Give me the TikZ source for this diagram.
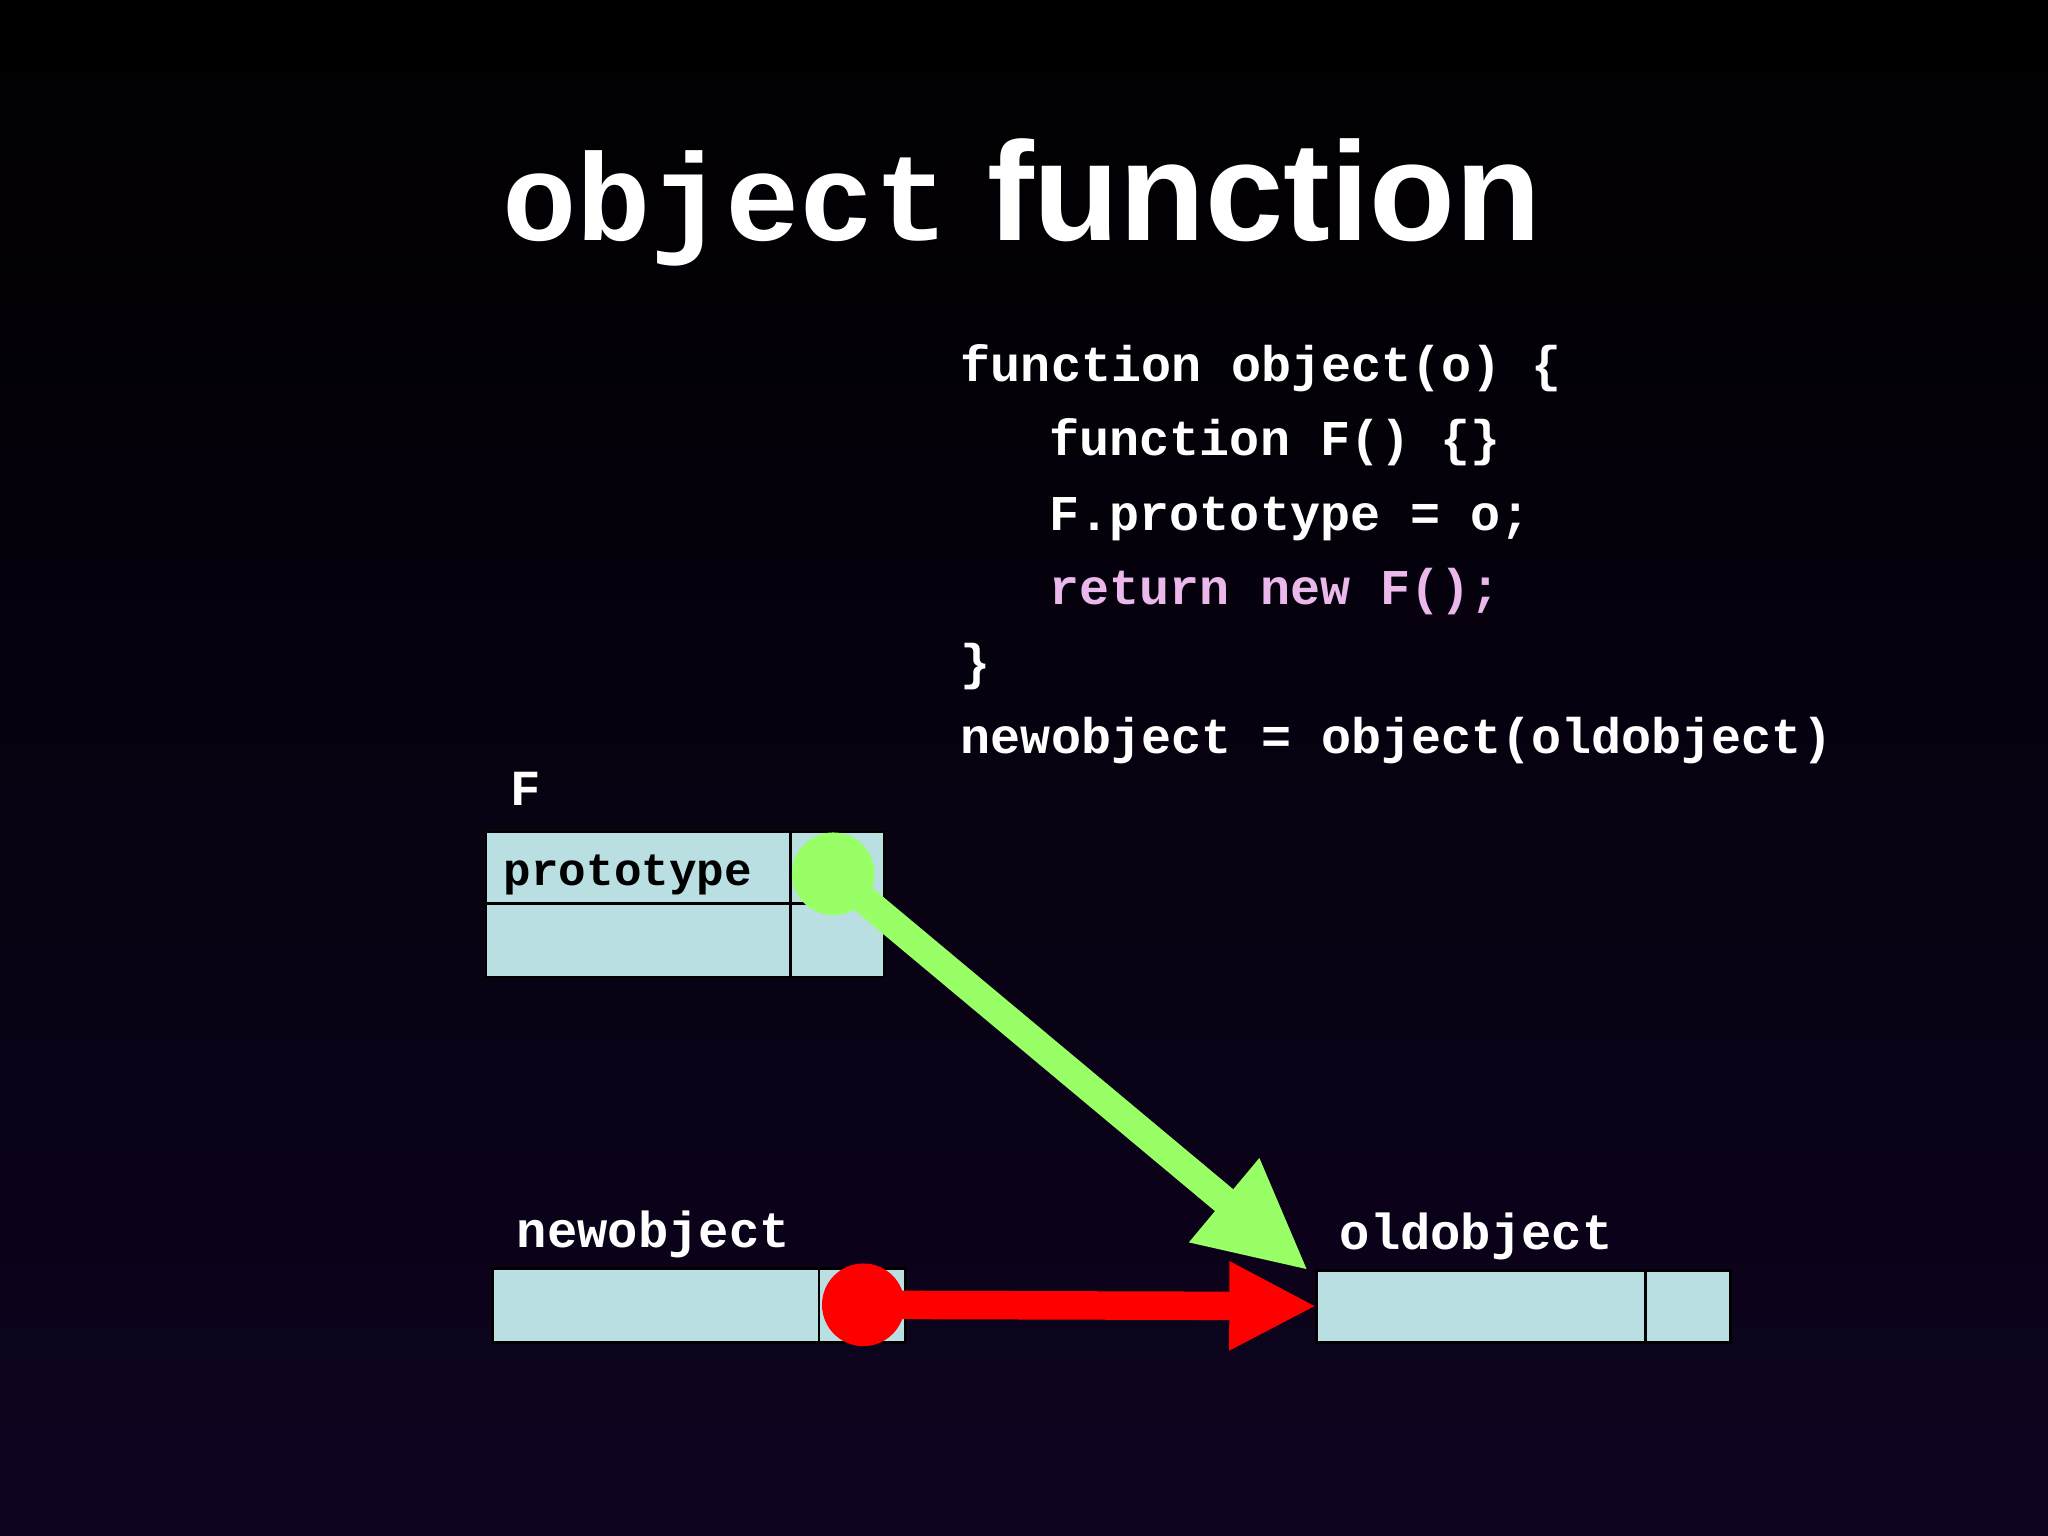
\documentclass[tikz,border=0pt]{standalone}
\usepackage{fontspec}
\setmainfont{Liberation Sans}
\setmonofont{Liberation Mono}
\usetikzlibrary{arrows.meta}
\definecolor{bgbot}{HTML}{0E0320}
\definecolor{boxfill}{HTML}{B9DFE3}
\definecolor{greenc}{HTML}{99FF66}
\definecolor{pinkc}{HTML}{EBB8EB}
\tikzset{
  code/.style={anchor=base west,inner sep=0,text=white,font=\ttfamily\bfseries\fontsize{10.9}{13}\selectfont},
  lbl/.style={anchor=base west,inner sep=0,text=white,font=\ttfamily\bfseries\fontsize{11}{13}\selectfont},
  cell/.style={draw=black,line width=0.6pt,fill=boxfill},
  dot/.style={circle,inner sep=0,minimum size=18pt},
}
\begin{document}
\begin{tikzpicture}[x=0.01cm,y=-0.01cm]
\shade[top color=black,bottom color=bgbot] (0,0) rectangle (1568,1176);
\useasboundingbox (0,0) rectangle (1568,1176);
% title
\node[anchor=base east,inner sep=0,text=white,font=\ttfamily\bfseries\fontsize{27}{30}\selectfont] (t1) at (727,184) {object};
\node[anchor=base west,inner sep=0,text=white,font=\bfseries\fontsize{30.6}{34}\selectfont] (t2) at (755,184) {function};
% code
\node[code] (c1) at (735,292) {function object(o) \{};
\node[code] (c2) at (803,349) {function F() \{\}};
\node[code] (c3) at (803,406) {F.prototype = o;};
\node[code,text=pinkc] (c4) at (803,463) {return new F();};
\node[code] (c5) at (735,520) {\}};
\node[code] (c6) at (735,577) {newobject = object(oldobject)};
% F box
\node[lbl] (fl) at (390,617) {F};
\draw[cell] (372,637) rectangle (677,748);
\draw[line width=0.6pt] (605,637) -- (605,748) (372,692) -- (677,692);
\node (fbox) at (524,692) {};
\node[anchor=base west,inner sep=0,text=black,font=\ttfamily\bfseries\fontsize{10}{12}\selectfont] (pl) at (385,678) {prototype};
% newobject box
\node[lbl] (nl) at (395,955) {newobject};
\draw[cell] (377,971) rectangle (693,1028);
\draw[line width=0.6pt] (627,971) -- (627,1028);
% oldobject box
\node[lbl] (ol) at (1025,957) {oldobject};
\draw[cell] (1008,973) rectangle (1325,1028);
\draw[line width=0.6pt] (1260,973) -- (1260,1028);
\coordinate (oldnw) at (1002,973);
\coordinate (oldw) at (1008,1000);
% dots and arrows
\node[dot,fill=greenc] (gd) at (638,669) {};
\node[dot,fill=red] (rd) at (661,999) {};
\draw[greenc,line width=6.2pt,-{Triangle[length=24pt,width=22pt]}] (gd.center) -- (oldnw);
\draw[red,line width=6.2pt,-{Triangle[length=19pt,width=18pt]}] (rd.center) -- (oldw);
\end{tikzpicture}
\end{document}
